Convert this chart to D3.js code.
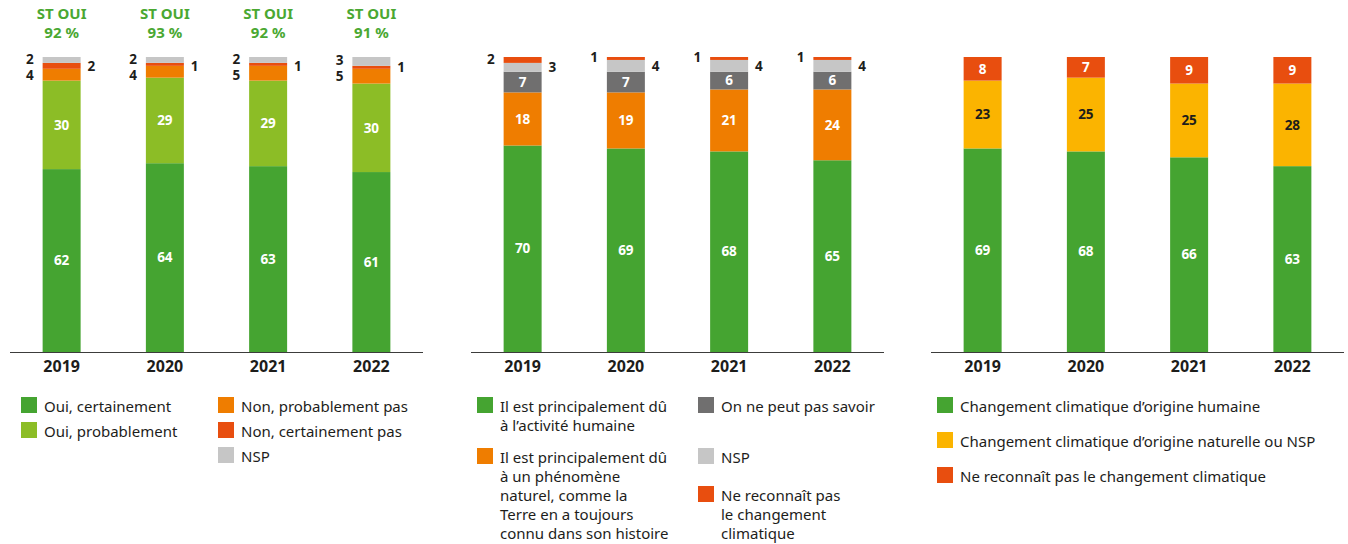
<!DOCTYPE html>
<html>
<head>
<meta charset="utf-8">
<script src="https://cdn.jsdelivr.net/npm/d3@7"></script>
<style>
  body { margin: 0; background: #fff; }
  svg text { font-family: "Noto Sans", "Open Sans", sans-serif; }
</style>
</head>
<body>
<svg id="chart" width="1348" height="544"></svg>
<script>
// [DATA]
const years = ['2019', '2020', '2021', '2022'];

// panel 1
const ouiCertainement = [62, 64, 63, 61];
const ouiProbablement = [30, 29, 29, 30];
const nonProbablement = [4, 4, 5, 5];
const nonCertainement = [2, 1, 1, 1];
const nsp1 = [2, 2, 2, 3];
const stOui = [92, 93, 92, 91];

// panel 2
const activiteHumaine = [70, 69, 68, 65];
const phenomeneNaturel = [18, 19, 21, 24];
const peutPasSavoir = [7, 7, 6, 6];
const nsp2 = [3, 4, 4, 4];
const neReconnaitPas2 = [2, 1, 1, 1];

// panel 3
const origineHumaine = [69, 68, 66, 63];
const origineNaturelle = [23, 25, 25, 28];
const neReconnaitPas3 = [8, 7, 9, 9];

const GREEN = '#45a431', LGREEN = '#8cbd26', ORANGE = '#ef7d00', RED = '#e84e0f',
      LGRAY = '#c6c6c6', DGRAY = '#706f6f', YELLOW = '#fbb400', INK = '#1d1d1b';

// [SETUP]
const svg = d3.select('#chart');
const y = d3.scaleLinear().domain([0, 100]).range([352, 57]);
const panelWidth = 413;

// series: {name, values, color, label: 'in'|'left'|'right', textColor}
function drawPanel(x0, series) {
  const g = svg.append('g').attr('transform', `translate(${x0},0)`);
  const x = d3.scaleBand().domain(years).range([0, panelWidth])
    .paddingInner(0.632).paddingOuter(0.316);

  const rows = years.map((yr, i) => {
    const r = { year: yr };
    series.forEach(s => r[s.name] = s.values[i]);
    return r;
  });
  const stacked = d3.stack().keys(series.map(s => s.name))(rows);

  stacked.forEach((layer, li) => {
    const s = series[li];
    g.selectAll(null).data(layer).enter().append('rect')
      .attr('x', d => x(d.data.year))
      .attr('width', x.bandwidth())
      .attr('y', d => y(d[1]))
      .attr('height', d => y(d[0]) - y(d[1]))
      .attr('fill', s.color);
  });

  // value labels
  const leftPrev = {};
  stacked.forEach((layer, li) => {
    const s = series[li];
    layer.forEach(d => {
      const yr = d.data.year;
      let cy = (y(d[0]) + y(d[1])) / 2;
      const t = g.append('text')
        .attr('dy', '0.35em')
        .attr('font-size', 13.5)
        .attr('font-weight', 700)
        .text(d.data[s.name]);
      if (s.label === 'in') {
        t.attr('x', x(yr) + x.bandwidth() / 2).attr('y', cy)
          .attr('text-anchor', 'middle').attr('fill', s.textColor || '#fff');
      } else if (s.label === 'left') {
        t.attr('x', x(yr) - 9).attr('text-anchor', 'end').attr('fill', INK);
        leftPrev[yr] = leftPrev[yr] || [];
        leftPrev[yr].push({ t, cy });
      } else {
        t.attr('x', x(yr) + x.bandwidth() + 7).attr('y', Math.max(cy, 66))
          .attr('text-anchor', 'start').attr('fill', INK);
      }
    });
  });
  // keep stacked left labels apart (top-most first)
  Object.values(leftPrev).forEach(list => {
    list.sort((a, b) => a.cy - b.cy);
    let prev = -Infinity;
    list.forEach(o => {
      const yy = Math.max(o.cy - 1, prev + 16);
      o.t.attr('y', yy);
      prev = yy;
    });
  });

  // axis
  const axis = g.append('g').attr('transform', 'translate(0,352.5)')
    .call(d3.axisBottom(x).tickSize(0).tickPadding(8));
  axis.select('.domain').attr('stroke', '#3c3c3b').attr('stroke-width', 1)
    .attr('d', `M0,0H${panelWidth}`);
  axis.selectAll('text').attr('font-size', 16).attr('font-weight', 700)
    .attr('fill', INK).attr('font-family', '"Noto Sans", sans-serif');

  return { g, x };
}

function legend(x0, items) {
  const g = svg.append('g');
  items.forEach(it => {
    g.append('rect').attr('x', x0 + it.dx).attr('y', it.y)
      .attr('width', 16).attr('height', 16).attr('fill', it.color);
    it.lines.forEach((ln, i) => {
      g.append('text').attr('x', x0 + it.dx + 23).attr('y', it.y + 10 + i * 19)
        .attr('dy', '0.35em').attr('font-size', 15).attr('fill', INK).text(ln);
    });
  });
}

// [PANEL 1]
const p1 = drawPanel(10, [
  { name: 'oc', values: ouiCertainement, color: GREEN, label: 'in' },
  { name: 'op', values: ouiProbablement, color: LGREEN, label: 'in' },
  { name: 'np', values: nonProbablement, color: ORANGE, label: 'left' },
  { name: 'nc', values: nonCertainement, color: RED, label: 'right' },
  { name: 'nsp', values: nsp1, color: LGRAY, label: 'left' }
]);
years.forEach((yr, i) => {
  const cx = p1.x(yr) + p1.x.bandwidth() / 2;
  p1.g.append('text').attr('x', cx).attr('y', 14).attr('dy', '0.35em')
    .attr('text-anchor', 'middle').attr('font-size', 15).attr('font-weight', 700)
    .attr('fill', '#4aa832').text('ST OUI');
  p1.g.append('text').attr('x', cx).attr('y', 33).attr('dy', '0.35em')
    .attr('text-anchor', 'middle').attr('font-size', 15).attr('font-weight', 700)
    .attr('fill', '#4aa832').text(stOui[i] + ' %');
});
legend(21, [
  { dx: 0, y: 397, color: GREEN, lines: ['Oui, certainement'] },
  { dx: 0, y: 422, color: LGREEN, lines: ['Oui, probablement'] },
  { dx: 197, y: 397, color: ORANGE, lines: ['Non, probablement pas'] },
  { dx: 197, y: 422, color: RED, lines: ['Non, certainement pas'] },
  { dx: 197, y: 447, color: LGRAY, lines: ['NSP'] }
]);

// [PANEL 2]
drawPanel(471, [
  { name: 'ah', values: activiteHumaine, color: GREEN, label: 'in' },
  { name: 'pn', values: phenomeneNaturel, color: ORANGE, label: 'in' },
  { name: 'pp', values: peutPasSavoir, color: DGRAY, label: 'in' },
  { name: 'nsp', values: nsp2, color: LGRAY, label: 'right' },
  { name: 'nr', values: neReconnaitPas2, color: RED, label: 'left' }
]);
legend(477, [
  { dx: 0, y: 397, color: GREEN, lines: ['Il est principalement dû', 'à l\u2019activité humaine'] },
  { dx: 0, y: 448, color: ORANGE, lines: ['Il est principalement dû', 'à un phénomène', 'naturel, comme la', 'Terre en a toujours', 'connu dans son histoire'] },
  { dx: 221, y: 397, color: DGRAY, lines: ['On ne peut pas savoir'] },
  { dx: 221, y: 448, color: LGRAY, lines: ['NSP'] },
  { dx: 221, y: 486, color: RED, lines: ['Ne reconnaît pas', 'le changement', 'climatique'] }
]);

// [PANEL 3]
drawPanel(931, [
  { name: 'oh', values: origineHumaine, color: GREEN, label: 'in' },
  { name: 'on', values: origineNaturelle, color: YELLOW, label: 'in', textColor: INK },
  { name: 'nr', values: neReconnaitPas3, color: RED, label: 'in' }
]);
legend(937, [
  { dx: 0, y: 397, color: GREEN, lines: ['Changement climatique d\u2019origine humaine'] },
  { dx: 0, y: 432, color: YELLOW, lines: ['Changement climatique d\u2019origine naturelle ou NSP'] },
  { dx: 0, y: 467, color: RED, lines: ['Ne reconnaît pas le changement climatique'] }
]);
</script>
</body>
</html>
